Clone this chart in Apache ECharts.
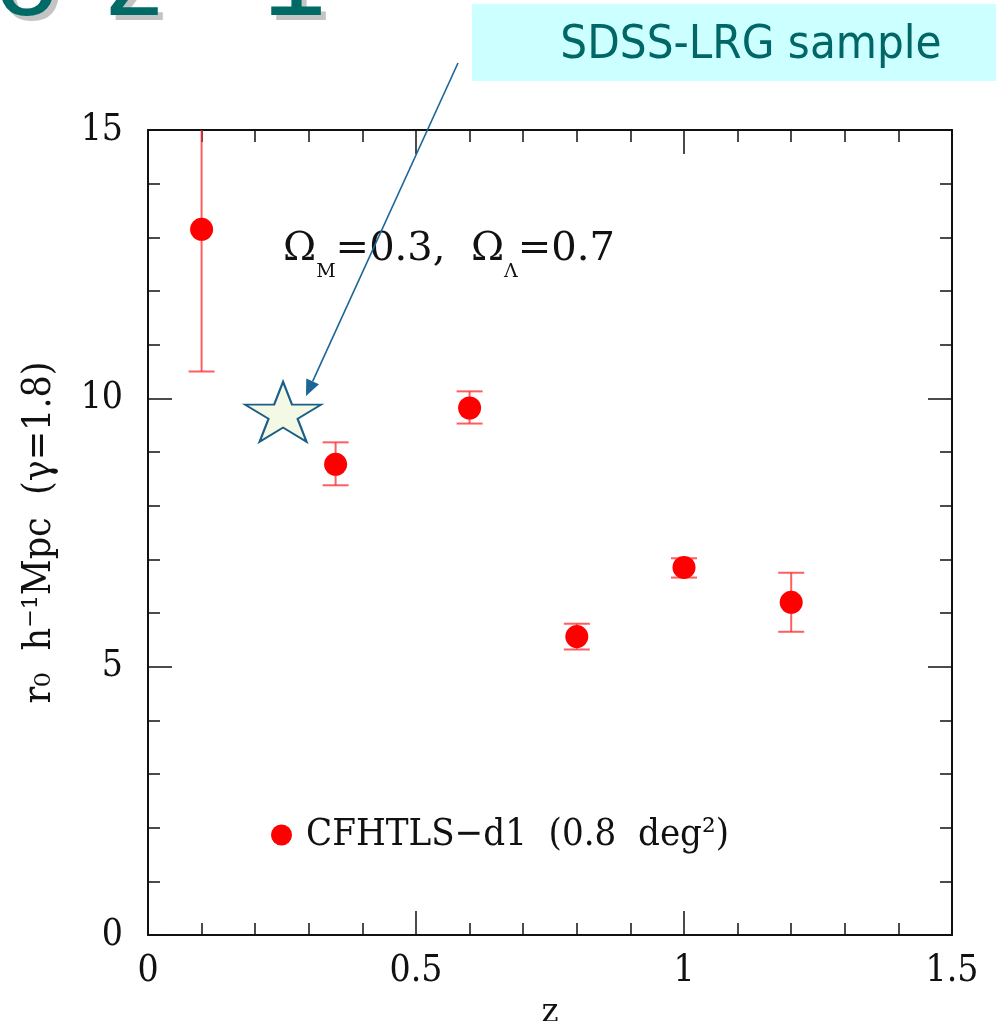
<!DOCTYPE html>
<html><head><meta charset="utf-8">
<script src="https://cdn.jsdelivr.net/npm/echarts@6/dist/echarts.min.js"></script>
<style>html,body{margin:0;padding:0;background:#fff}#c{width:996px;height:1021px}</style>
</head><body><div id="c"></div>
<script>
// ---- data ----
const redshift = [0.1, 0.35, 0.6, 0.8, 1.0, 1.2];
const r0 = [13.15, 8.77, 9.82, 5.56, 6.85, 6.2];
const r0Low = [10.5, 8.38, 9.53, 5.32, 6.66, 5.65];
const r0High = [16.0, 9.18, 10.13, 5.80, 7.02, 6.75];
const sdssZ = [0.252];
const sdssR0 = [9.75];
const seriesName = 'CFHTLS\u2212d1  (0.8  deg\u00B2)';
const boxLabel = 'SDSS-LRG sample';
const titleLeft = 'to';
const titleRight = 'z ~1';
const yAxisTitle = 'r\u2080  h\u207B\u00B9Mpc  (\u03B3=1.8)';
const xAxisTitle = 'z';

const SERIF = "'DejaVu Serif Condensed', 'DejaVu Serif', serif";
const SERIF_W = "'DejaVu Serif', serif";
const INK = '#111';

// 5-point star path (shape only)
function starPath() {
  let p = [];
  for (let k = 0; k < 10; k++) {
    const a = (-90 + k * 36) * Math.PI / 180;
    const r = k % 2 === 0 ? 50 : 19.1;
    p.push((50 + r * Math.cos(a)).toFixed(2) + ' ' + (50 + r * Math.sin(a)).toFixed(2));
  }
  return 'path://M' + p.join(' L') + ' Z';
}

const chart = echarts.init(document.getElementById('c'), null, {renderer: 'canvas'});

function axisCommon(pos, showLabel) {
  return {
    type: 'value', position: pos,
    axisLine: {show: true, onZero: false, lineStyle: {color: INK, width: 2}},
    axisTick: {show: true, inside: true, length: 24, lineStyle: {color: INK, width: 1.5}},
    minorTick: {show: true, splitNumber: 5, length: 12, lineStyle: {color: INK, width: 1.5}},
    splitLine: {show: false},
    minorSplitLine: {show: false},
    axisLabel: {show: showLabel, fontFamily: SERIF, fontSize: 37, color: INK, margin: 18}
  };
}

const xBottom = Object.assign(axisCommon('bottom', true), {
  min: 0, max: 1.5, interval: 0.5,
  name: xAxisTitle, nameLocation: 'middle', nameGap: 60,
  nameTextStyle: {fontFamily: SERIF, fontSize: 36, color: INK}
});
const xTop = Object.assign(axisCommon('top', false), {min: 0, max: 1.5, interval: 0.5});
const yLeft = Object.assign(axisCommon('left', true), {
  min: 0, max: 15, interval: 5,
  name: yAxisTitle, nameLocation: 'middle', nameGap: 89, nameRotate: 90,
  nameTextStyle: {fontFamily: SERIF, fontSize: 39, color: INK}
});
yLeft.axisLabel.margin = 25;
const yRight = Object.assign(axisCommon('right', false), {min: 0, max: 15, interval: 5});

// arrow geometry (annotation)
const ax0 = 458, ay0 = 63, ax1 = 306, ay1 = 396;
const ang = Math.atan2(ay1 - ay0, ax1 - ax0);
const hl = 16, hw = 7;
const bx = ax1 - hl * Math.cos(ang), by = ay1 - hl * Math.sin(ang);
const head = [[ax1, ay1],
  [bx + hw * Math.sin(ang), by - hw * Math.cos(ang)],
  [bx - hw * Math.sin(ang), by + hw * Math.cos(ang)]];

const TFONT = "115px 'Liberation Sans', Arial, sans-serif";

const option = {
  animation: false,
  backgroundColor: '#fff',
  grid: {left: 148, right: 44, top: 130, bottom: 86, containLabel: false, outerBoundsMode: 'none'},
  xAxis: [xBottom, xTop],
  yAxis: [yLeft, yRight],
  legend: {
    data: [{name: seriesName, icon: 'circle', itemStyle: {opacity: 1}}],
    left: 266, top: 811, itemWidth: 21, itemHeight: 21, itemGap: 10,
    textStyle: {fontFamily: SERIF, fontSize: 38, color: INK, padding: [0, 0, 0, 9]},
    selectedMode: false
  },
  series: [
    {
      type: 'custom', name: 'err', z: 2, silent: true,
      data: redshift.map((z, i) => [z, r0Low[i], r0High[i]]),
      renderItem: function (params, api) {
        const cs = params.coordSys;
        const lo = api.coord([api.value(0), api.value(1)]);
        const hi = api.coord([api.value(0), api.value(2)]);
        const top = cs.y;
        const children = [];
        const hiY = Math.max(hi[1], top);
        const st = {stroke: 'rgba(255,40,40,0.75)', lineWidth: 2};
        children.push({type: 'line', shape: {x1: lo[0], y1: lo[1], x2: lo[0], y2: hiY}, style: st});
        children.push({type: 'line', shape: {x1: lo[0] - 13, y1: lo[1], x2: lo[0] + 13, y2: lo[1]}, style: st});
        if (hi[1] >= top) children.push({type: 'line', shape: {x1: hi[0] - 13, y1: hi[1], x2: hi[0] + 13, y2: hi[1]}, style: st});
        return {type: 'group', children: children};
      }
    },
    {
      type: 'scatter', name: seriesName, z: 3,
      data: redshift.map((z, i) => [z, r0[i]]),
      symbol: 'circle', symbolSize: 23,
      itemStyle: {color: '#ff0000', opacity: 1}
    },
    {
      type: 'scatter', name: 'SDSS', z: 4,
      data: sdssZ.map((z, i) => [z, sdssR0[i]]),
      symbol: starPath(), symbolSize: [76, 60], symbolKeepAspect: false,
      itemStyle: {color: '#f4f9e6', borderColor: '#1b5f86', borderWidth: 2, opacity: 1}
    }
  ],
  graphic: [
    // title fragment (shadow + text)
    {type: 'text', x: 64, y: 46, z: 10, style: {text: titleLeft, font: TFONT, fill: '#c4c4c4', align: 'right', verticalAlign: 'bottom'}},
    {type: 'text', x: 111, y: 46, z: 10, style: {text: titleRight, font: TFONT, fill: '#c4c4c4', align: 'left', verticalAlign: 'bottom'}},
    {type: 'text', x: 59, y: 41, z: 11, style: {text: titleLeft, font: TFONT, fill: '#006b66', align: 'right', verticalAlign: 'bottom'}},
    {type: 'text', x: 106, y: 41, z: 11, style: {text: titleRight, font: TFONT, fill: '#006b66', align: 'left', verticalAlign: 'bottom'}},
    // box
    {type: 'rect', shape: {x: 472, y: 4, width: 524, height: 77}, style: {fill: '#ccffff'}, z: 10},
    {type: 'text', x: 751, y: 46, z: 11,
      style: {text: boxLabel, font: "47px 'Liberation Sans Narrow', 'DejaVu Sans Condensed', sans-serif", fill: '#006666', align: 'center', verticalAlign: 'middle'}},
    // arrow
    {type: 'line', z: 12, shape: {x1: ax0, y1: ay0, x2: bx, y2: by}, style: {stroke: '#1b6696', lineWidth: 1.6}},
    {type: 'polygon', z: 12, shape: {points: head}, style: {fill: '#1b6696'}},
    // cosmology annotation
    {type: 'text', x: 283, y: 250, z: 11,
      style: {
        text: '{t|\u03A9}{s|M}{t|=0.3,  \u03A9}{s|\u039B}{t|=0.7}',
        verticalAlign: 'middle', align: 'left',
        rich: {
          t: {fontFamily: SERIF_W, fontSize: 40, fill: INK, lineHeight: 63, verticalAlign: 'middle'},
          s: {fontFamily: SERIF_W, fontSize: 19, fill: INK, lineHeight: 17, verticalAlign: 'bottom'}
        }
      }}
  ]
};
chart.setOption(option);
</script>
</body></html>
